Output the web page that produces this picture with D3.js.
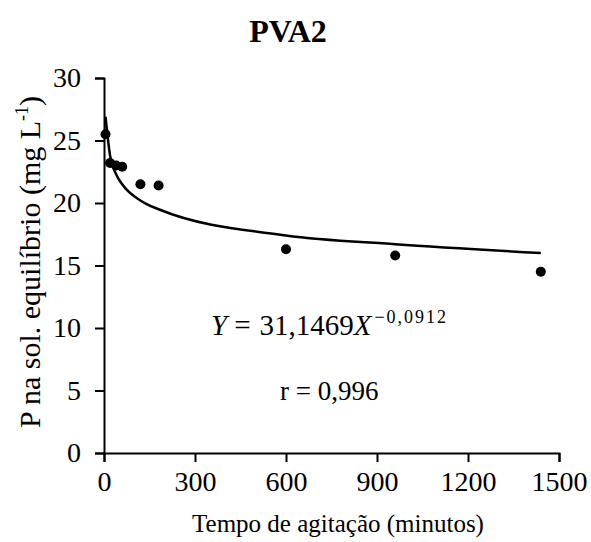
<!DOCTYPE html>
<html><head><meta charset="utf-8">
<script src="https://cdn.jsdelivr.net/npm/d3@7"></script>
<style>body{margin:0;background:#fff}</style>
</head><body>
<svg id="c" width="591" height="542"></svg>
<script>
const times = [5, 20, 40, 60, 120, 180, 600, 960, 1440];
const observed = [25.5, 23.2, 23.0, 22.9, 21.5, 21.4, 16.3, 15.8, 14.5];
const fitted = [26.9, 23.8, 22.3, 21.5, 20.2, 19.5, 17.4, 16.7, 16.0];
const xTicks = [0, 300, 600, 900, 1200, 1500];
const yTicks = [0, 5, 10, 15, 20, 25, 30];

const svg = d3.select("#c");
const font = "'Liberation Serif','Times New Roman',serif";
const x = d3.scaleLinear().domain([0, 1500]).range([104, 559]);
const y = d3.scaleLinear().domain([0, 30]).range([453, 78]);

const xa = svg.append("g").attr("transform", `translate(0,${y(0)})`)
  .call(d3.axisBottom(x).tickValues(xTicks).tickFormat(d3.format("d")).tickSize(9).tickSizeOuter(9));
const ya = svg.append("g").attr("transform", `translate(${x(0)},0)`)
  .call(d3.axisLeft(y).tickValues(yTicks).tickFormat(d3.format("d")).tickSize(9).tickSizeOuter(9).tickPadding(14));
[xa, ya].forEach(a => {
  a.attr("font-family", font);
  a.selectAll("path,line").attr("stroke", "#000").attr("stroke-width", 2);
  a.selectAll("text").attr("font-family", font).attr("font-size", 28).attr("fill", "#000");
});
xa.selectAll("text").attr("y", 38).attr("dy", 0);

const pts = times.map((t, i) => ({t, o: observed[i], f: fitted[i]}));
svg.append("path").datum(pts)
  .attr("fill", "none").attr("stroke", "#000").attr("stroke-width", 2.5)
  .attr("d", d3.line().x(d => x(d.t)).y(d => y(d.f)).curve(d3.curveMonotoneX));
svg.selectAll("circle").data(pts).join("circle")
  .attr("cx", d => x(d.t)).attr("cy", d => y(d.o)).attr("r", 5).attr("fill", "#000");

svg.append("text").attr("x", 288).attr("y", 42).attr("text-anchor", "middle")
  .attr("font-family", font).attr("font-weight", "bold").attr("font-size", 32).text("PVA2");

svg.append("text").attr("x", 338).attr("y", 532).attr("text-anchor", "middle")
  .attr("font-family", font).attr("font-size", 25).text("Tempo de agitação (minutos)");

const yl = svg.append("text").attr("transform", "translate(40,262) rotate(-90)")
  .attr("text-anchor", "middle").attr("font-family", font).attr("font-size", 30);
yl.append("tspan").text("P na sol. equilíbrio (mg L");
yl.append("tspan").attr("font-size", 18).attr("dy", -12).text("-1");
yl.append("tspan").attr("dy", 12).text(")");

const eq = svg.append("text").attr("x", 211).attr("y", 335)
  .attr("font-family", font).attr("font-size", 29);
eq.append("tspan").attr("font-style", "italic").text("Y");
eq.append("tspan").attr("dx", 7).text("=");
eq.append("tspan").attr("dx", 9).text("31,1469");
eq.append("tspan").attr("font-style", "italic").text("X");
eq.append("tspan").attr("font-size", 18).attr("dy", -12).attr("dx", 3).attr("letter-spacing", 2).text("−0,0912");

svg.append("text").attr("x", 280).attr("y", 400)
  .attr("font-family", font).attr("font-size", 27).text("r = 0,996");
</script>
</body></html>
